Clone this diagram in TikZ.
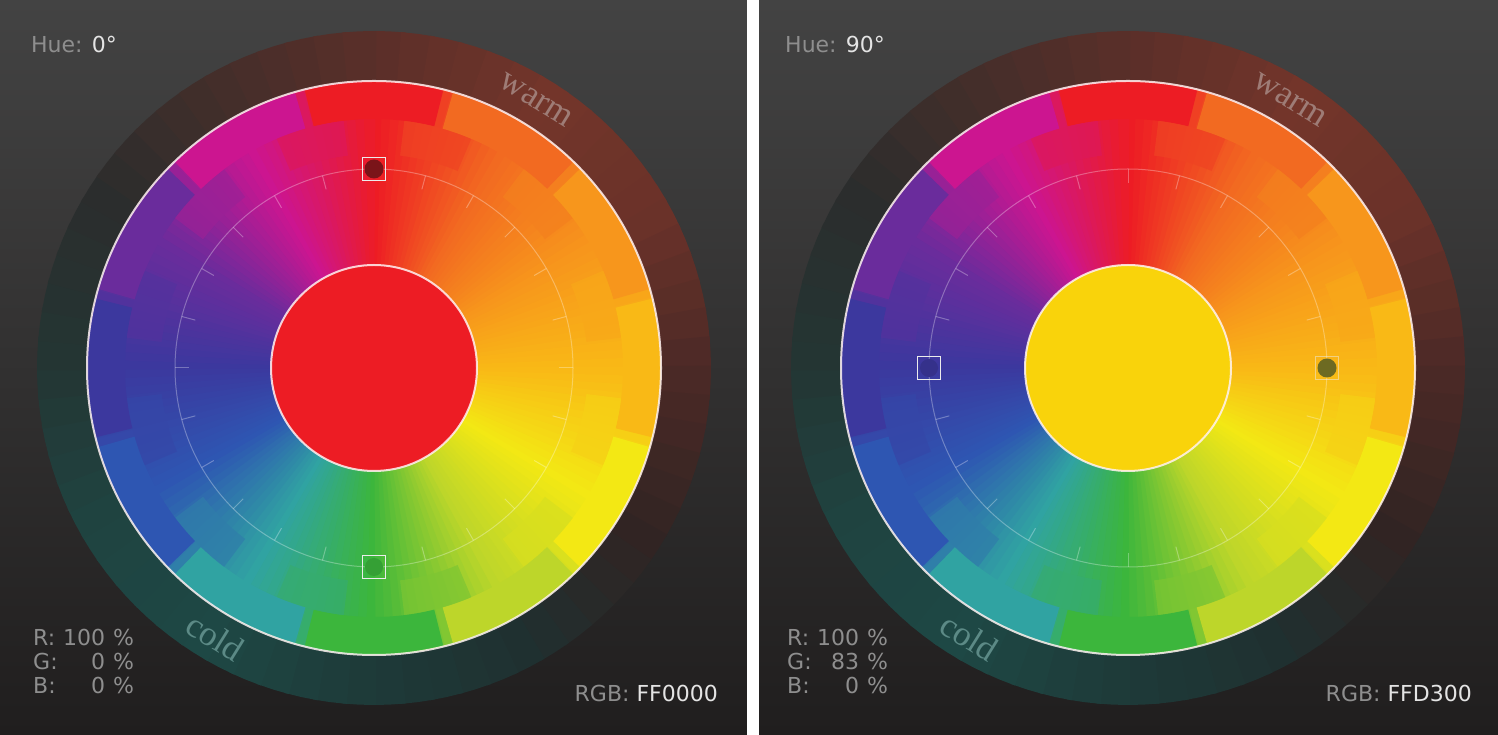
\documentclass[tikz,border=0pt]{standalone}
\usepackage{fontspec}
\setmainfont{DejaVu Sans}
\newfontfamily\moodfont{Liberation Serif}
\usetikzlibrary{positioning, calc}

\definecolor{bgtop}{HTML}{434343}
\definecolor{bgbot}{HTML}{201E1E}
% hue keys, clockwise from the top
\definecolor{hueA}{HTML}{ED1C24}
\definecolor{hueB}{HTML}{F26A21}
\definecolor{hueC}{HTML}{F7961C}
\definecolor{hueD}{HTML}{F9B916}
\definecolor{hueE}{HTML}{F3E814}
\definecolor{hueF}{HTML}{BDD62A}
\definecolor{hueG}{HTML}{3CB63C}
\definecolor{hueH}{HTML}{30A3A2}
\definecolor{hueI}{HTML}{2E56B2}
\definecolor{hueJ}{HTML}{3C389E}
\definecolor{hueK}{HTML}{6A2C9C}
\definecolor{hueL}{HTML}{CC1590}
% warm / cold band keys
\definecolor{ringA}{HTML}{5C2F29}
\definecolor{ringB}{HTML}{73352A}
\definecolor{ringC}{HTML}{6A3229}
\definecolor{ringD}{HTML}{4A2926}
\definecolor{ringE}{HTML}{312423}
\definecolor{ringF}{HTML}{1F3030}
\definecolor{ringG}{HTML}{1E3B39}
\definecolor{ringH}{HTML}{1E4845}
\definecolor{ringI}{HTML}{1F4340}
\definecolor{ringJ}{HTML}{243533}
\definecolor{ringK}{HTML}{2B2D2D}
\definecolor{ringL}{HTML}{442E2A}
\definecolor{uigray}{HTML}{8E8E8E}
\definecolor{uiwhite}{HTML}{E4E4E4}
\definecolor{warmtext}{HTML}{9E7C76}
\definecolor{coldtext}{HTML}{5C8A86}
\definecolor{centerL}{HTML}{ED1C24}
\definecolor{centerR}{HTML}{F9D30B}
\definecolor{dotL}{HTML}{7A1419}
\definecolor{dotR}{HTML}{6D6A22}

\begin{document}
\begin{tikzpicture}[x=1pt, y=1pt,
  wheelrim/.style={draw=white!80!pink, line width=2pt, opacity=.85},
  tickring/.style={draw=white, line width=1pt, opacity=.3},
  marksq/.style={rectangle, draw=white!85!gray, line width=1.3pt, minimum size=23pt, inner sep=0pt},
  uilabel/.style={font=\fontsize{22}{24}\selectfont, text=uigray, inner sep=0pt},
  mood/.style={font=\moodfont\fontsize{35}{40}\selectfont, rotate=-32, inner sep=0pt},
]

\useasboundingbox (0,0) rectangle (1498,735);

%%% Panels
\shade[top color=bgtop, bottom color=bgbot] (0,0) rectangle (747,735);
\shade[top color=bgtop, bottom color=bgbot] (759,0) rectangle (1498,735);
\fill[white] (747,0) rectangle (759,735);

\coordinate (L) at (374,367);
\coordinate (R) at (1128,367);

%%% Warm / cold band
\foreach \wh in {L,R}{
  \foreach \ca/\cb [count=\i from 0] in {ringA/ringB, ringB/ringC, ringC/ringD, ringD/ringE, ringE/ringF, ringF/ringG, ringG/ringH, ringH/ringI, ringI/ringJ, ringJ/ringK, ringK/ringL, ringL/ringA}{
    \foreach \j in {0,...,5}{
      \pgfmathsetmacro\mix{100-\j*100/6}
      \pgfmathsetmacro\ang{90-\i*30-\j*5}
      \fill[fill=\ca!\mix!\cb] (\wh) -- +(\ang+0.4:337) -- +(\ang-2.5:337) -- +(\ang-5.4:337) -- cycle;
    }
  }
}

%%% Hue wheels
\foreach \wh in {L,R}{
  \foreach \ca/\cb [count=\i from 0] in {hueA/hueB, hueB/hueC, hueC/hueD, hueD/hueE, hueE/hueF, hueF/hueG, hueG/hueH, hueH/hueI, hueI/hueJ, hueJ/hueK, hueK/hueL, hueL/hueA}{
    \foreach \j in {0,...,14}{
      \pgfmathsetmacro\mix{100-\j*100/15}
      \pgfmathsetmacro\ang{90-\i*30-\j*2}
      \fill[fill=\ca!\mix!\cb] (\wh) -- +(\ang+0.3:287) -- +(\ang-2.3:287) -- cycle;
    }
  }
  % stepped blocks
  \foreach \ca/\cb [count=\i from 0] in {hueA/hueB, hueB/hueC, hueC/hueD, hueD/hueE, hueE/hueF, hueF/hueG, hueG/hueH, hueH/hueI, hueI/hueJ, hueJ/hueK, hueK/hueL, hueL/hueA}{
    \pgfmathsetmacro\mid{90-\i*30}
    \fill[fill=\ca] ($(\wh)+(\mid+14:249)$) arc[start angle=\mid+14, end angle=\mid-14, radius=249pt]
      -- ($(\wh)+(\mid-14:286)$) arc[start angle=\mid-14, end angle=\mid+14, radius=286pt] -- cycle;
    \fill[fill=\ca!50!\cb, fill opacity=.7] ($(\wh)+(\mid-7:214)$) arc[start angle=\mid-7, end angle=\mid-23, radius=214pt]
      -- ($(\wh)+(\mid-23:249)$) arc[start angle=\mid-23, end angle=\mid-7, radius=249pt] -- cycle;
  }
  \draw[tickring] (\wh) circle[radius=199pt];
  \draw[wheelrim] (\wh) circle[radius=287pt];
}

%%% Ticks
\foreach \t in {15,30,...,165,195,210,...,345}
  \draw[tickring] ($(L)+(90-\t:199)$) -- ($(L)+(90-\t:185)$);
\foreach \t in {0,15,...,75,105,120,...,255,285,300,...,345}
  \draw[tickring] ($(R)+(90-\t:199)$) -- ($(R)+(90-\t:185)$);

%%% Centres
\fill[centerL] (L) circle[radius=103pt];
\draw[wheelrim] (L) circle[radius=103pt];
\fill[centerR] (R) circle[radius=103pt];
\draw[wheelrim] (R) circle[radius=103pt];

%%% Markers
\node[marksq] (pickL) at ($(L)+(90:199)$) {};
\fill[dotL] (pickL) circle[radius=9.5pt];
\node[marksq] (compL) at ($(L)+(-90:199)$) {};
\fill[hueG!88!black] (compL) circle[radius=9pt];
\node[marksq, draw opacity=.5] (pickR) at ($(R)+(0:199)$) {};
\fill[dotR] (pickR) circle[radius=9.5pt];
\node[marksq] (compR) at ($(R)+(180:199)$) {};
\fill[hueJ!88!black] (compR) circle[radius=9pt];

%%% Labels, left
\node[uilabel, anchor=base west] (hueL) at (31,682) {Hue: \textcolor{uiwhite}{0°}};
\node[uilabel, anchor=base west] (redL) at (33,89) {\makebox[30pt][l]{R:}100\hspace{8pt}\%};
\node[uilabel, anchor=base west] (greenL) at (33,65) {\makebox[30pt][l]{G:}\phantom{10}0\hspace{8pt}\%};
\node[uilabel, anchor=base west] (blueL) at (33,41) {\makebox[30pt][l]{B:}\phantom{10}0\hspace{8pt}\%};
\node[uilabel, anchor=base east] (codeL) at (718,33) {RGB: \textcolor{uiwhite}{FF0000}};
\node[mood, text=warmtext] (warmL) at (536,635) {warm};
\node[mood, text=coldtext] (coldL) at (215,98) {cold};

%%% Labels, right
\node[uilabel, anchor=base west] (hueR) at (785,682) {Hue: \textcolor{uiwhite}{90°}};
\node[uilabel, anchor=base west] (redR) at (787,89) {\makebox[30pt][l]{R:}100\hspace{8pt}\%};
\node[uilabel, anchor=base west] (greenR) at (787,65) {\makebox[30pt][l]{G:}\phantom{1}83\hspace{8pt}\%};
\node[uilabel, anchor=base west] (blueR) at (787,41) {\makebox[30pt][l]{B:}\phantom{10}0\hspace{8pt}\%};
\node[uilabel, anchor=base east] (codeR) at (1472,33) {RGB: \textcolor{uiwhite}{FFD300}};
\node[mood, text=warmtext] (warmR) at (1290,635) {warm};
\node[mood, text=coldtext] (coldR) at (969,98) {cold};

\end{tikzpicture}
\end{document}
